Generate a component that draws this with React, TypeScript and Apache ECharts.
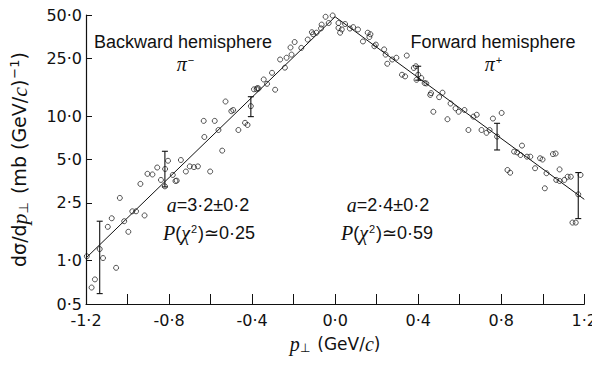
import React, { useEffect, useRef } from "react";
import * as echarts from "echarts";

// Transverse-momentum spectra: backward (π−) and forward (π+) hemispheres
const backwardX = [
  -1.196, -1.173, -1.157, -1.134, -1.118, -1.095, -1.076, -1.055, -1.037, -1.016,
  -0.996, -0.977, -0.959, -0.938, -0.918, -0.904, -0.88, -0.857, -0.839, -0.82,
  -0.819, -0.805, -0.782, -0.769, -0.763, -0.743, -0.719, -0.7, -0.68, -0.661,
  -0.633, -0.63, -0.602, -0.58, -0.562, -0.544, -0.528, -0.5, -0.491, -0.466,
  -0.434, -0.422, -0.406, -0.391, -0.378, -0.375, -0.369, -0.344, -0.328, -0.304,
  -0.289, -0.265, -0.242, -0.234, -0.215, -0.21, -0.195, -0.163, -0.132, -0.112,
  -0.106, -0.09, -0.068, -0.065, -0.046, -0.031, -0.012,
];
const backwardY = [
  1.07, 0.65, 0.74, 1.2, 1.04, 1.71, 1.96, 0.89, 2.71, 1.87,
  1.58, 2.19, 2.19, 3.39, 2.05, 3.98, 3.94, 4.4, 3.61, 3.26,
  4.3, 4.9, 3.91, 3.55, 3.57, 4.96, 4.13, 4.48, 4.43, 4.48,
  9.25, 7.16, 4.13, 9.25, 8.0, 5.76, 12.6, 10.8, 11.0, 8.0,
  8.97, 8.67, 11.7, 15.3, 15.3, 15.6, 15.5, 17.9, 16.7, 19.9,
  15.2, 24.6, 21.6, 25.3, 29.8, 26.6, 32.5, 29.6, 33.8, 38.0,
  36.8, 37.7, 40.4, 42.9, 48.6, 44.0, 49.6,
];

const forwardX = [
  0.016, 0.016, 0.024, 0.032, 0.048, 0.071, 0.087, 0.11, 0.134, 0.157,
  0.165, 0.17, 0.189, 0.196, 0.236, 0.243, 0.251, 0.275, 0.295, 0.322,
  0.337, 0.345, 0.379, 0.389, 0.392, 0.4, 0.415, 0.431, 0.439, 0.458,
  0.462, 0.473, 0.501, 0.517, 0.541, 0.556, 0.58, 0.595, 0.623, 0.642,
  0.666, 0.682, 0.705, 0.729, 0.744, 0.76, 0.78, 0.802, 0.83, 0.843,
  0.862, 0.877, 0.893, 0.9, 0.924, 0.94, 0.963, 0.987, 0.999, 1.01,
  1.018, 1.049, 1.062, 1.065, 1.081, 1.081, 1.104, 1.12, 1.135, 1.143,
  1.159, 1.171, 1.182,
];
const forwardY = [
  44.0, 40.7, 37.7, 39.7, 43.3, 40.3, 41.2, 39.7, 32.8, 37.7,
  35.2, 36.8, 30.4, 31.2, 28.9, 26.6, 23.0, 24.6, 25.3, 19.3,
  18.8, 26.2, 21.5, 22.1, 17.8, 19.3, 18.3, 16.9, 16.8, 14.0,
  14.4, 10.7, 13.5, 14.5, 9.5, 12.2, 11.3, 10.7, 11.0, 8.0,
  9.9, 10.2, 8.0, 7.65, 8.0, 9.6, 7.2, 10.5, 4.23, 4.05,
  5.67, 5.6, 5.37, 6.24, 5.23, 5.23, 4.35, 5.1, 5.0, 3.16,
  4.02, 5.45, 5.5, 3.61, 4.27, 3.55, 3.61, 3.8, 3.8, 1.83,
  1.83, 2.87, 3.91,
];

// Error bars: position, lower and upper limit
const errX = [-1.134, -0.82, -0.406, 0.4, 0.78, 1.171];
const errLow = [0.59, 3.23, 9.9, 17.7, 5.82, 1.95];
const errHigh = [1.87, 5.7, 13.6, 22.1, 8.9, 4.06];

// Exponential fits (straight lines on the log scale)
const fitX = [-1.2, 0.0, 1.2];
const fitY = [1.04, 48.6, 2.65];

const yTickValues = [0.5, 1, 2.5, 5, 10, 25, 50];

const SANS = "'Liberation Sans', Arial, sans-serif";
const WIDE = "'DejaVu Sans', 'Liberation Sans', sans-serif";
const SERIF = "'Liberation Serif', 'Times New Roman', serif";

const dotted = (v: number) => v.toFixed(1).replace(".", "·");

export default function App() {
  const ref = useRef<HTMLDivElement>(null);

  useEffect(() => {
    if (!ref.current) return;
    const chart = echarts.init(ref.current, null, { renderer: "svg" });

    const pts = (xs: number[], ys: number[]) => xs.map((x, i) => [x, ys[i]]);
    const mathRich = {
      i: { fontFamily: SERIF, fontStyle: "italic", fontSize: 20, fill: "#111" },
      s: { fontFamily: SANS, fontSize: 11, fill: "#111", verticalAlign: "top", padding: [0, 1, 8, 1] },
    };

    chart.setOption({
      animation: false,
      backgroundColor: "#fff",
      grid: { left: 81, right: 8, top: 15, bottom: 62 },
      xAxis: {
        type: "value",
        min: -1.2,
        max: 1.2,
        interval: 0.2,
        name: "{i|p}{sub|⊥} (GeV/{i|c})",
        nameLocation: "middle",
        nameGap: 30,
        nameTextStyle: {
          fontFamily: WIDE,
          fontSize: 17,
          color: "#111",
          rich: {
            i: { fontFamily: SERIF, fontStyle: "italic", fontSize: 20, color: "#111" },
            sub: { fontFamily: SANS, fontSize: 12, color: "#111", verticalAlign: "bottom", padding: [8, 2, 0, 0] },
          },
        },
        axisLine: { onZero: false, lineStyle: { color: "#111", width: 1.2 } },
        axisTick: { inside: true, length: 10, lineStyle: { color: "#111" } },
        axisLabel: {
          fontFamily: WIDE,
          fontSize: 16,
          color: "#111",
          margin: 8,
          formatter: (v: number) => (Math.round(v / 0.2) % 2 === 0 ? dotted(v) : ""),
        },
        splitLine: { show: false },
      },
      yAxis: {
        type: "log",
        logBase: 10,
        min: 0.5,
        max: 50,
        name: "d{g|σ}/d{i|p}{sub|⊥} (mb (GeV/{i|c}){sup|−1})",
        nameLocation: "middle",
        nameRotate: 90,
        nameGap: 56,
        nameTextStyle: {
          fontFamily: WIDE,
          fontSize: 19,
          color: "#111",
          rich: {
            g: { fontFamily: WIDE, fontSize: 19, color: "#111" },
            i: { fontFamily: SERIF, fontStyle: "italic", fontSize: 22, color: "#111" },
            sub: { fontFamily: WIDE, fontSize: 13, color: "#111", verticalAlign: "bottom", padding: [9, 2, 0, 0] },
            sup: { fontFamily: WIDE, fontSize: 13, color: "#111", verticalAlign: "top", padding: [0, 0, 9, 1] },
          },
        },
        axisLine: { show: true, onZero: false, lineStyle: { color: "#111", width: 1.2 } },
        axisTick: { inside: true, length: 6, customValues: yTickValues, lineStyle: { color: "#111" } },
        axisLabel: {
          fontFamily: WIDE,
          fontSize: 16,
          color: "#111",
          margin: 4,
          customValues: yTickValues,
          formatter: (v: number) => dotted(v),
        },
        splitLine: { show: false },
        minorTick: { show: false },
      },
      series: [
        {
          type: "line",
          data: pts(fitX, fitY),
          symbol: "none",
          lineStyle: { color: "#111", width: 1 },
          z: 2,
        },
        {
          type: "custom",
          data: errX.map((x, i) => [x, errLow[i], errHigh[i]]),
          renderItem: (_params: any, api: any) => {
            const lo = api.coord([api.value(0), api.value(1)]);
            const hi = api.coord([api.value(0), api.value(2)]);
            const w = 3;
            const st = { stroke: "#111", lineWidth: 1.1 };
            return {
              type: "group",
              children: [
                { type: "line", shape: { x1: lo[0], y1: lo[1], x2: hi[0], y2: hi[1] }, style: st },
                { type: "line", shape: { x1: lo[0] - w, y1: lo[1], x2: lo[0] + w, y2: lo[1] }, style: st },
                { type: "line", shape: { x1: hi[0] - w, y1: hi[1], x2: hi[0] + w, y2: hi[1] }, style: st },
              ],
            };
          },
          z: 3,
        },
        {
          type: "scatter",
          name: "π−",
          data: pts(backwardX, backwardY),
          symbol: "circle",
          symbolSize: 5,
          itemStyle: { color: "rgba(255,255,255,0)", borderColor: "#111", borderWidth: 0.9 },
          z: 4,
        },
        {
          type: "scatter",
          name: "π+",
          data: pts(forwardX, forwardY),
          symbol: "circle",
          symbolSize: 5,
          itemStyle: { color: "rgba(255,255,255,0)", borderColor: "#111", borderWidth: 0.9 },
          z: 4,
        },
      ],
      graphic: [
        {
          type: "text",
          x: 183,
          y: 42,
          style: { text: "Backward hemisphere", fontFamily: SANS, fontSize: 18, fill: "#111", align: "center", verticalAlign: "middle" },
        },
        {
          type: "text",
          x: 186,
          y: 64,
          style: { text: "{i|π}{s|−}", rich: mathRich, align: "center", verticalAlign: "middle" },
        },
        {
          type: "text",
          x: 493,
          y: 42,
          style: { text: "Forward hemisphere", fontFamily: SANS, fontSize: 18, fill: "#111", align: "center", verticalAlign: "middle" },
        },
        {
          type: "text",
          x: 494,
          y: 64,
          style: { text: "{i|π}{s|+}", rich: mathRich, align: "center", verticalAlign: "middle" },
        },
        {
          type: "text",
          x: 208,
          y: 205,
          style: { text: "{i|a}=3·2±0·2", rich: mathRich, fontFamily: SANS, fontSize: 18, fill: "#111", align: "center", verticalAlign: "middle" },
        },
        {
          type: "text",
          x: 209,
          y: 233,
          style: { text: "{i|P}({i|χ}{s|2})≃0·25", rich: mathRich, fontFamily: SANS, fontSize: 18, fill: "#111", align: "center", verticalAlign: "middle" },
        },
        {
          type: "text",
          x: 388,
          y: 205,
          style: { text: "{i|a}=2·4±0·2", rich: mathRich, fontFamily: SANS, fontSize: 18, fill: "#111", align: "center", verticalAlign: "middle" },
        },
        {
          type: "text",
          x: 387,
          y: 233,
          style: { text: "{i|P}({i|χ}{s|2})≃0·59", rich: mathRich, fontFamily: SANS, fontSize: 18, fill: "#111", align: "center", verticalAlign: "middle" },
        },
      ],
    });

    return () => chart.dispose();
  }, []);

  return <div ref={ref} style={{ width: 600, height: 366, margin: -8 }} />;
}
